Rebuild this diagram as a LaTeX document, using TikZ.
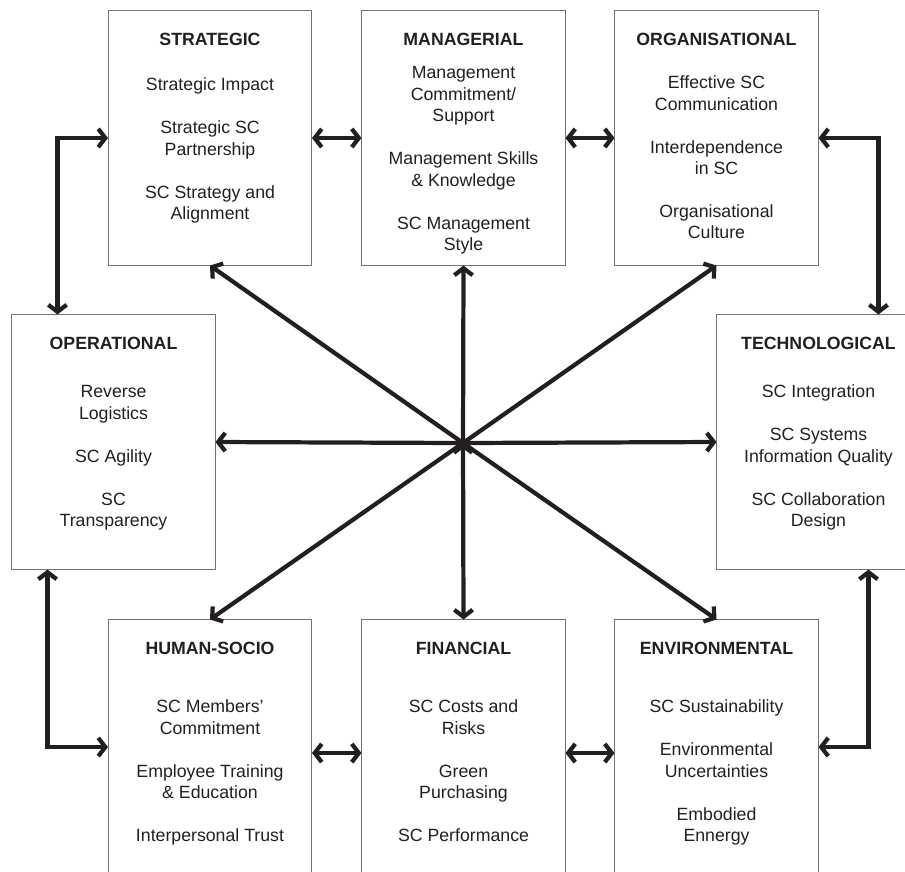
\documentclass[tikz,border=0pt]{standalone}
\usepackage{fontspec}
\setmainfont{Liberation Sans}
\usepackage{tikz}
\usetikzlibrary{positioning, arrows.meta, calc}

\definecolor{ink}{HTML}{231F20}
\newcommand{\factext}[1]{\begin{tabular}[t]{@{}c@{}}#1\end{tabular}}

\tikzset{
    factor/.style={draw=black!55, line width=0.7pt, minimum width=5.075cm,
        inner sep=0pt, text height=0.875cm, text depth=5.475cm,
        text=ink, font=\fontsize{12.6}{15.25}\selectfont},
    link/.style={draw=ink, line width=3pt, line join=miter,
        {Straight Barb[length=5pt,width=13pt]}-{Straight Barb[length=5pt,width=13pt]}},
    spoke/.style={draw=ink, line width=3pt, -{Straight Barb[length=5pt,width=13pt]}}
}

\begin{document}
\begin{tikzpicture}[x=0.025cm, y=-0.025cm]
    \useasboundingbox (0,0) rectangle (905,871);
    \clip (0,0) rectangle (905,871);

    % top row
    \node[factor] (str) at (210,138) {\factext{\textbf{STRATEGIC}\\[16.7pt]
        Strategic Impact\\[15.25pt] Strategic SC\\Partnership\\[15.25pt]
        SC Strategy and\\Alignment}};
    \node[factor] (man) at (463.5,138) {\factext{\textbf{MANAGERIAL}\\[8.2pt]
        Management\\Commitment/\\Support\\[15.25pt]
        Management Skills\\\& Knowledge\\[15.25pt] SC Management\\Style}};
    \node[factor] (org) at (716.5,138) {\factext{\textbf{ORGANISATIONAL}\\[15.25pt]
        Effective SC\\Communication\\[15.25pt] Interdependence\\in SC\\[15.25pt]
        Organisational\\Culture}};

    % middle row
    \node[factor] (op) at (113.5,442) {\factext{\textbf{OPERATIONAL}\\[18.8pt]
        Reverse\\Logistics\\[15.25pt] SC Agility\\[15.25pt] SC\\Transparency}};
    \node[factor] (tech) at (818.5,442) {\factext{\textbf{TECHNOLOGICAL}\\[18.8pt]
        SC Integration\\[15.25pt] SC Systems\\Information Quality\\[15.25pt]
        SC Collaboration\\Design}};

    % bottom row
    \node[factor] (hs) at (210,747) {\factext{\textbf{HUMAN-SOCIO}\\[25.9pt]
        SC Members'\\Commitment\\[15.25pt] Employee Training\\\& Education\\[15.25pt]
        Interpersonal Trust}};
    \node[factor] (fin) at (463.5,747) {\factext{\textbf{FINANCIAL}\\[25.9pt]
        SC Costs and\\Risks\\[15.25pt] Green\\Purchasing\\[15.25pt]
        SC Performance}};
    \node[factor] (env) at (716.5,747) {\factext{\textbf{ENVIRONMENTAL}\\[25.9pt]
        SC Sustainability\\[15.25pt] Environmental\\Uncertainties\\[15.25pt]
        Embodied\\Ennergy}};

    \coordinate (hub) at (463,443);

    % star from the hub
    \draw[spoke]
        (hub) edge (str.south)
        (hub) edge (man.south)
        (hub) edge (org.south)
        (hub) edge (op.east)
        (hub) edge (tech.west)
        (hub) edge (hs.north)
        (hub) edge (fin.north)
        (hub) edge (env.north)
        ;

    % neighbours
    \draw[link] (str.east) -- (man.west);
    \draw[link] (man.east) -- (org.west);
    \draw[link] ($(hs.east)+(0,6)$) -- ($(fin.west)+(0,6)$);
    \draw[link] ($(fin.east)+(0,6)$) -- ($(env.west)+(0,6)$);

    % round the outside
    \draw[link] (str.west) -| ($(op.north west)+(46,0)$);
    \draw[link] ($(op.south west)+(36,0)$) |- (hs.west);
    \draw[link] (org.east) -| ($(tech.north west)+(162,0)$);
    \draw[link] ($(tech.south west)+(152,0)$) |- (env.east);
\end{tikzpicture}
\end{document}
